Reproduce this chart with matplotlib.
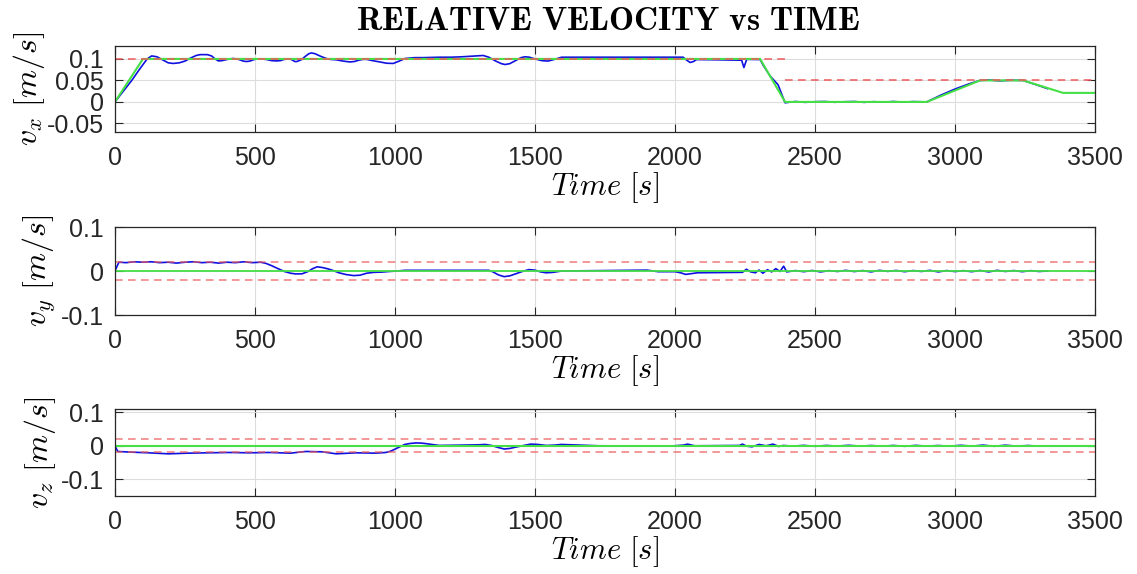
import matplotlib.pyplot as plt

plt.rcParams['mathtext.fontset'] = 'cm'
plt.rcParams['font.family'] = ['Liberation Sans', 'DejaVu Sans']
plt.rcParams['axes.unicode_minus'] = False

# reference (green) and limits (red dashed)
t_ref_x = [0, 100, 2304, 2393, 2899, 3089, 3243, 3386, 3500]
vx_ref = [0, 0.1, 0.1, 0, 0, 0.05, 0.05, 0.021, 0.021]
t_ref_yz = [0, 3500]
v_ref_yz = [0, 0]
t_lim_x1 = [0, 2393]
t_lim_x2 = [2393, 3500]
lim_x1 = 0.1
lim_x2 = 0.05
lim_yz = 0.02

# measured vx (blue)
t_vx = [0, 30, 60, 90, 115, 131, 150, 170, 190, 208, 230, 250, 270, 290, 304, 330, 345, 358,
        369, 382, 395, 410, 422, 435, 446, 458, 470, 482, 494, 506, 525, 542, 560, 577, 590,
        605, 625, 635, 642, 650, 665, 680, 692, 702, 715, 735, 755, 768, 790, 815, 839, 855,
        870, 885, 899, 920, 946, 970, 994, 1015, 1036, 1070, 1100, 1161, 1200, 1240, 1290,
        1315, 1335, 1360, 1380, 1393, 1410, 1430, 1450, 1464, 1480, 1500, 1525, 1546, 1570,
        1595, 1800, 2029, 2040, 2054, 2066, 2077, 2150, 2238, 2246, 2256, 2304, 2315, 2340,
        2368, 2393,
        2430, 2465, 2500, 2535, 2570, 2605, 2640, 2675, 2710, 2745, 2780, 2815, 2850, 2899,
        2950, 3000, 3050, 3089, 3120, 3160, 3200, 3243, 3290, 3330]
vx = [0, 0.025, 0.05, 0.078, 0.1, 0.107, 0.105, 0.098, 0.091, 0.0895, 0.091, 0.095, 0.102,
      0.108, 0.11, 0.11, 0.107, 0.1, 0.0954, 0.096, 0.098, 0.1, 0.101, 0.1, 0.098, 0.095,
      0.094, 0.095, 0.098, 0.1, 0.1, 0.0986, 0.096, 0.0954, 0.096, 0.099, 0.1, 0.097, 0.094,
      0.094, 0.098, 0.106, 0.112, 0.114, 0.112, 0.106, 0.101, 0.099, 0.098, 0.095, 0.093,
      0.094, 0.097, 0.099, 0.099, 0.096, 0.093, 0.09, 0.0895, 0.095, 0.101, 0.103, 0.103,
      0.104, 0.104, 0.105, 0.107, 0.108, 0.104, 0.095, 0.089, 0.087, 0.089, 0.096, 0.103,
      0.105, 0.104, 0.1, 0.096, 0.095, 0.099, 0.104, 0.104, 0.104, 0.098, 0.0917, 0.094,
      0.0986, 0.098, 0.097, 0.080, 0.099, 0.0986, 0.085, 0.06, 0.04, -0.002,
      0.001, -0.001, 0.0005, 0.001, -0.0008, 0.0004, 0.001, -0.001, 0.0006, -0.0005, 0.001,
      -0.0006, 0.0008, 0.0,
      0.016, 0.03, 0.042, 0.05, 0.051, 0.049, 0.0505, 0.05, 0.04, 0.031]

# measured vy (blue)
t_vy = [0, 14, 40, 70, 100, 130, 160, 190, 220, 250, 280, 310, 340, 370, 400, 430, 460, 490,
        520, 538, 560, 580, 605, 627, 645, 668, 690, 705, 722, 740, 760, 777, 800, 825, 852,
        875, 899, 925, 954, 980, 1008, 1035, 1335, 1350, 1370, 1390, 1410, 1431, 1455, 1478,
        1500, 1520, 1540, 1565, 1594, 1900, 1940, 2000, 2020, 2038, 2058, 2080, 2241, 2255,
        2270, 2287, 2300, 2314, 2330, 2345, 2360, 2375, 2388, 2399,
        2430, 2460, 2490, 2520, 2550, 2580, 2610, 2640, 2670, 2700, 2730, 2760, 2790, 2820,
        2850, 2880, 2910, 2940, 2970, 3000, 3030, 3060, 3090, 3120, 3150, 3180, 3210, 3240,
        3270, 3300, 3331]
vy = [0, 0.02, 0.019, 0.021, 0.02, 0.021, 0.019, 0.02, 0.018, 0.02, 0.021, 0.019, 0.02,
      0.018, 0.02, 0.019, 0.021, 0.019, 0.02, 0.0176, 0.012, 0.006, -0.001, -0.005, -0.0066,
      -0.0064, -0.001, 0.005, 0.0096, 0.008, 0.005, 0.0016, -0.004, -0.008, -0.0104, -0.0095,
      -0.005, -0.003, -0.0024, -0.001, 0.0, 0.0016, 0.0016, -0.002, -0.009, -0.0128, -0.011,
      -0.0064, -0.001, 0.0032, 0.002, -0.002, -0.004, -0.003, 0.0, 0.002, -0.0015, -0.0015,
      -0.004, -0.0077, -0.006, -0.004, -0.003, 0.004, -0.002, -0.004, 0.0023, -0.005, 0.003,
      -0.002, 0.0054, -0.001, 0.011, -0.002,
      0.001, -0.0015, 0.0012, -0.002, 0.0008, -0.001, 0.0015, -0.0012, 0.001, -0.002,
      0.0015, -0.0008, 0.0012, -0.0015, 0.001, -0.001, 0.0015, -0.002, 0.001, -0.0012,
      0.0008, -0.0015, 0.0012, -0.002, 0.0015, -0.001, 0.001, -0.0015, 0.0008, -0.001, 0.0]

# measured vz (blue)
t_vz = [0, 10, 60, 120, 191, 260, 330, 409, 480, 550, 627, 681, 740, 790, 860, 930, 967, 985,
        1005, 1020, 1035, 1055, 1076, 1095, 1117, 1140, 1158, 1240, 1300, 1322, 1345, 1368,
        1390, 1410, 1431, 1460, 1485, 1510, 1540, 1570, 1594, 1727, 1979, 2030, 2045, 2060,
        2071, 2230, 2241, 2255, 2275, 2300, 2325, 2350, 2370, 2386,
        2420, 2460, 2500, 2540, 2580, 2620, 2660, 2700, 2740, 2780, 2820, 2860, 2900, 2940,
        2980, 3020, 3060, 3100, 3140, 3180, 3220, 3260, 3300, 3331]
vz = [0, -0.017, -0.019, -0.021, -0.024, -0.022, -0.021, -0.02, -0.021, -0.02, -0.022,
      -0.017, -0.018, -0.024, -0.021, -0.022, -0.02, -0.016, -0.008, -0.002, 0.004, 0.007,
      0.0086, 0.008, 0.0057, 0.003, 0.001, 0.002, 0.003, 0.004, 0.001, -0.005, -0.0095,
      -0.008, -0.004, 0.001, 0.005, 0.004, 0.001, 0.002, 0.004, 0.0, -0.001, 0.002, 0.005,
      0.002, 0.0, 0.001, 0.005, -0.001, -0.003, 0.004, 0.0, 0.005, -0.002, 0.001,
      -0.001, 0.0012, -0.0015, 0.001, -0.0008, 0.0015, -0.001, 0.0008, -0.0012, 0.001,
      -0.0015, 0.0012, -0.001, 0.0008, -0.0012, 0.0015, -0.001, 0.002, -0.0015, 0.0018,
      -0.001, 0.0008, -0.001, 0.0]

x_ticks = [0, 500, 1000, 1500, 2000, 2500, 3000, 3500]

fig = plt.figure(figsize=(11.37, 5.74), dpi=100)
blue = '#1010e0'
green = '#45e045'
red = '#ee5a5a'
dash = (0, (5, 3.5))

ax1 = fig.add_axes([0.1011, 0.7700, 0.862, 0.1498])
ax2 = fig.add_axes([0.1011, 0.4512, 0.862, 0.1533])
ax3 = fig.add_axes([0.1011, 0.1359, 0.862, 0.1516])

# vx
ax1.plot(t_vx, vx, color=blue, lw=1.2)
ax1.plot(t_ref_x, vx_ref, color=green, lw=1.5)
ax1.plot(t_lim_x1, [lim_x1, lim_x1], color=red, lw=1.1, linestyle=dash)
ax1.plot(t_lim_x2, [lim_x2, lim_x2], color=red, lw=1.1, linestyle=dash)
ax1.set_ylim(-0.07, 0.13)
ax1.set_yticks([-0.05, 0, 0.05, 0.1])
ax1.set_yticklabels(['-0.05', '0', '0.05', '0.1'])
ax1.set_ylabel(r'$v_x\ [m/s]$', fontsize=23, labelpad=0)

# vy
ax2.plot(t_vy, vy, color=blue, lw=1.2)
ax2.plot(t_ref_yz, v_ref_yz, color=green, lw=1.3)
ax2.plot([0, 3500], [lim_yz, lim_yz], color=red, lw=1.1, linestyle=dash, alpha=0.8)
ax2.plot([0, 3500], [-lim_yz, -lim_yz], color=red, lw=1.1, linestyle=dash, alpha=0.8)
ax2.set_ylim(-0.1, 0.1)
ax2.set_yticks([-0.1, 0, 0.1])
ax2.set_yticklabels(['-0.1', '0', '0.1'])
ax2.set_ylabel(r'$v_y\ [m/s]$', fontsize=23, labelpad=2)

# vz
ax3.plot(t_vz, vz, color=blue, lw=1.2)
ax3.plot(t_ref_yz, v_ref_yz, color=green, lw=1.5)
ax3.plot([0, 3500], [lim_yz, lim_yz], color=red, lw=1.1, linestyle=dash, alpha=0.8)
ax3.plot([0, 3500], [-lim_yz, -lim_yz], color=red, lw=1.1, linestyle=dash, alpha=0.8)
ax3.set_ylim(-0.15, 0.11)
ax3.set_yticks([-0.1, 0, 0.1])
ax3.set_yticklabels(['-0.1', '0', '0.1'])
ax3.set_ylabel(r'$v_z\ [m/s]$', fontsize=23, labelpad=2)

for ax in [ax1, ax2, ax3]:
    ax.set_xlim(0, 3500)
    ax.set_xticks(x_ticks)
    ax.set_xticklabels([str(v) for v in x_ticks])
    ax.set_xlabel(r'$Time\ [s]$', fontsize=22, labelpad=0)
    ax.grid(True, color='#dddddd', lw=0.8)
    ax.tick_params(direction='in', length=6, width=0.8, top=True, right=True,
                   labelsize=18, colors='#262626')
    ax.tick_params(axis='x', pad=10)
    ax.tick_params(axis='y', pad=8)
    for s in ax.spines.values():
        s.set_color('#262626')
        s.set_linewidth(0.9)

fig.text(0.535, 0.963, r'$\mathbf{RELATIVE\ VELOCITY\ vs\ TIME}$', fontsize=24,
         ha='center', va='center')

plt.savefig('out.png', dpi=100)
